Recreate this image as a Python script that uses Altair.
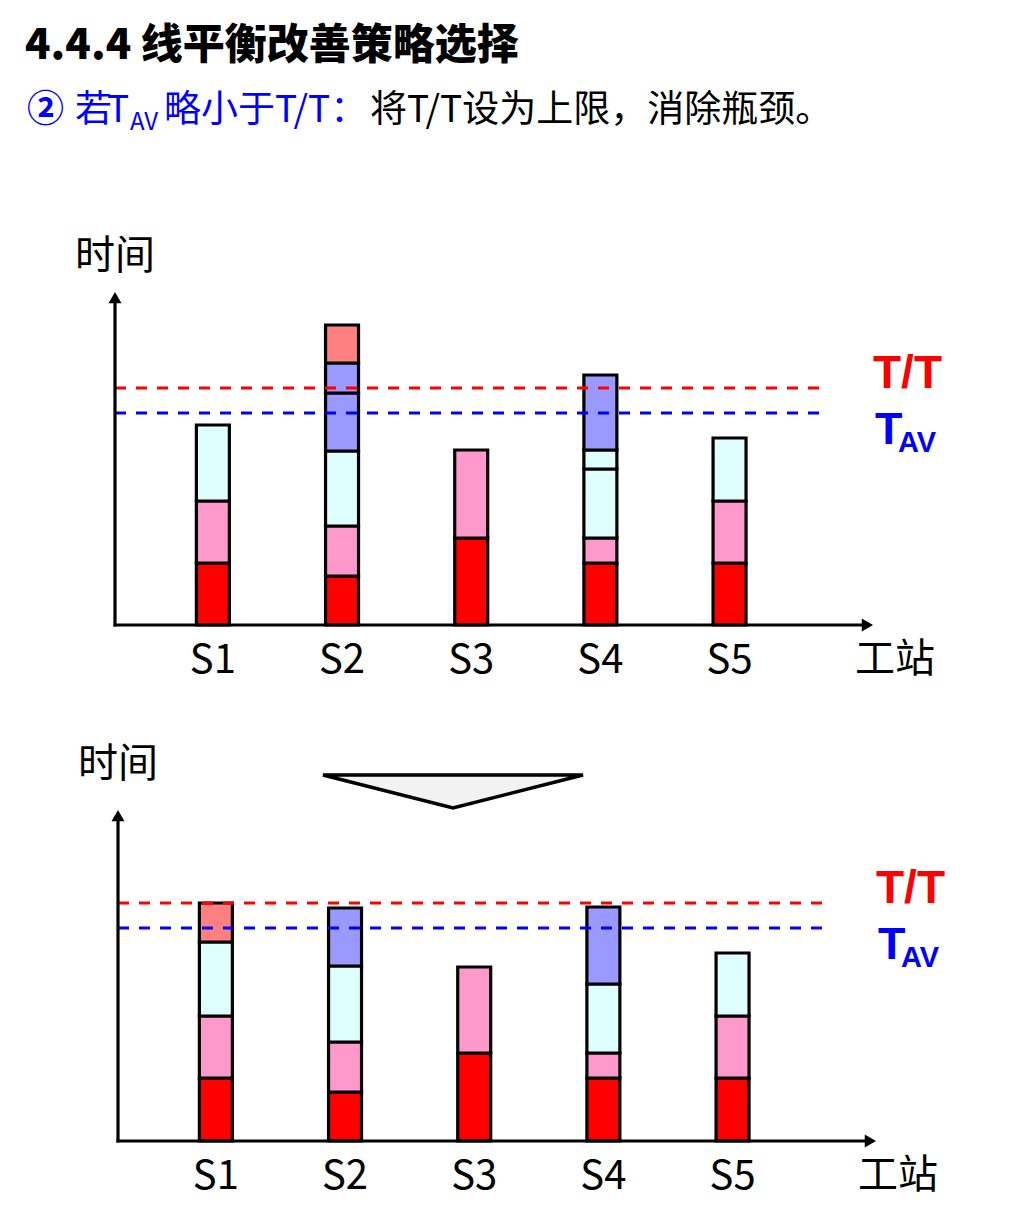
import altair as alt
import pandas as pd

CJK = "Noto Sans CJK SC"
LAT = "Liberation Sans"

stations = ["S1", "S2", "S3", "S4", "S5"]
kinds = ["red", "pink", "cyan", "blue", "salmon"]
kind_colors = ["#FF0000", "#FF99CC", "#DFFFFF", "#9999FF", "#FF8080"]

# before improvement
before_station = ["S1", "S1", "S1", "S2", "S2", "S2", "S2", "S2", "S2", "S3", "S3",
                  "S4", "S4", "S4", "S4", "S4", "S5", "S5", "S5"]
before_kind = ["red", "pink", "cyan", "red", "pink", "cyan", "blue", "blue", "salmon",
               "red", "pink", "red", "pink", "cyan", "cyan", "blue", "red", "pink", "cyan"]
before_value = [6.2, 6.2, 7.6, 4.9, 5.0, 7.5, 5.8, 3.0, 3.8, 8.7, 8.8,
                6.2, 2.5, 6.9, 1.9, 7.5, 6.2, 6.2, 6.3]
before_tt = 23.7
before_tav = 21.2
before_ymax = 33.3

# after improvement
after_station = ["S1", "S1", "S1", "S1", "S2", "S2", "S2", "S2", "S3", "S3",
                 "S4", "S4", "S4", "S4", "S5", "S5", "S5"]
after_kind = ["red", "pink", "cyan", "salmon", "red", "pink", "cyan", "blue", "red", "pink",
              "red", "pink", "cyan", "blue", "red", "pink", "cyan"]
after_value = [6.3, 6.2, 7.4, 3.9, 4.9, 5.0, 7.6, 5.8, 8.8, 8.6,
               6.3, 2.5, 6.9, 7.7, 6.3, 6.2, 6.3]
after_tt = 23.8
after_tav = 21.3
after_ymax = 33.1

one = pd.DataFrame({"a": [0]})


def txt(s, x, y, size, color="black", weight="normal", font=CJK):
    return alt.Chart(one).mark_text(
        text=s, align="left", baseline="alphabetic", fontSize=size,
        color=color, fontWeight=weight, font=font
    ).encode(x=alt.value(x), y=alt.value(y))


def panel(station, kind, value, tt, tav, ymax, height, dx, label_dy):
    df = pd.DataFrame({"station": station, "kind": kind, "value": value})
    df["seg"] = list(range(len(df)))
    lab = pd.DataFrame({"station": stations})
    W = 808
    xs = alt.Scale(domain=stations, paddingInner=0.7447, paddingOuter=1.0,
                   align=(188.5 + dx) / 258.5)
    ys = alt.Scale(domain=[0, ymax], nice=False, zero=True)

    bars = alt.Chart(df).mark_bar(stroke="black", strokeWidth=3.2, opacity=1).encode(
        x=alt.X("station:N", scale=xs, axis=None, sort=stations),
        y=alt.Y("value:Q", stack="zero", scale=ys, axis=None),
        color=alt.Color("kind:N", scale=alt.Scale(domain=kinds, range=kind_colors), legend=None),
        order=alt.Order("seg:Q"),
    )
    labels = alt.Chart(lab).mark_text(
        fontSize=40, font=CJK, baseline="alphabetic", align="center", color="black"
    ).encode(
        x=alt.X("station:N", scale=xs, axis=None, sort=stations),
        y=alt.value(height + 48),
        text="station:N",
    )
    ax0 = 107 + dx
    yaxis = alt.Chart(one).mark_rule(color="black", strokeWidth=3.2).encode(
        x=alt.value(ax0), y=alt.value(8), y2=alt.value(height + 1.5))
    yarrow = alt.Chart(one).mark_point(shape="triangle-up", size=169, filled=True,
                                       color="black", opacity=1).encode(
        x=alt.value(ax0), y=alt.value(5.6))
    xaxis = alt.Chart(one).mark_rule(color="black", strokeWidth=3.2).encode(
        x=alt.value(ax0 - 1.5), x2=alt.value(855 + dx), y=alt.value(height))
    xarrow = alt.Chart(one).mark_point(shape="triangle-right", size=169, filled=True,
                                       color="black", opacity=1).encode(
        x=alt.value(859.4 + dx), y=alt.value(height))
    red_line = alt.Chart(one).mark_rule(color="#FF0000", strokeWidth=2.8,
                                        strokeDash=[11, 10]).encode(
        y=alt.datum(tt), x=alt.value(ax0), x2=alt.value(812 + dx))
    blue_line = alt.Chart(one).mark_rule(color="#0000FF", strokeWidth=2.8,
                                         strokeDash=[11, 10]).encode(
        y=alt.datum(tav), x=alt.value(ax0), x2=alt.value(812 + dx))
    tt_lab = alt.Chart(one).mark_text(text="T/T", fontSize=46, fontWeight="bold", font=LAT,
                                      color="#FF0000", align="left", baseline="alphabetic").encode(
        x=alt.value(865 + dx), y=alt.datum(tt))
    tav_t = alt.Chart(one).mark_text(text="T", fontSize=45, fontWeight="bold", font=LAT,
                                     color="#0000FF", align="left", baseline="alphabetic",
                                     dy=31).encode(
        x=alt.value(867 + dx), y=alt.datum(tav))
    tav_sub = alt.Chart(one).mark_text(text="AV", fontSize=29, fontWeight="bold", font=LAT,
                                       color="#0000FF", align="left", baseline="alphabetic",
                                       dy=39).encode(
        x=alt.value(890 + dx), y=alt.datum(tav))
    ylab = txt("时间", 67 + dx, label_dy, 40)
    xlab = txt("工站", 847 + dx, height + 47, 40)
    return alt.layer(bars, red_line, blue_line, yaxis, yarrow, xaxis, xarrow, labels,
                     tt_lab, tav_t, tav_sub, ylab, xlab).properties(width=W, height=height)


header = alt.layer(
    txt("4.4.4 线平衡改善策略选择", 17, 51, 42, weight=900),
    txt("②", 19, 114, 37, color="#0000FF", weight="bold"),
    txt("若", 67, 114, 37, color="#0000FF"),
    txt("T", 99, 114, 37, color="#0000FF"),
    txt("AV", 122, 122, 24, color="#0000FF"),
    txt("略小于T/T：", 156, 114, 37, color="#0000FF"),
    txt("将T/T设为上限，消除瓶颈。", 362, 114, 37),
).properties(width=1000, height=99)

p1 = panel(before_station, before_kind, before_value, before_tt, before_tav,
           before_ymax, 333, 0, -23)
triangle = alt.Chart(one).mark_point(
    shape="M-1,-0.127L1,-0.127L0,0.127Z", size=67600, filled=True, fill="#F2F2F2",
    stroke="black", strokeWidth=3.5, opacity=1, fillOpacity=1, strokeOpacity=1,
    strokeJoin="miter"
).encode(x=alt.value(445), y=alt.value(-18.5))
p2 = alt.layer(
    panel(after_station, after_kind, after_value, after_tt, after_tav,
          after_ymax, 331, 3, -33),
    triangle,
)

chart = alt.vconcat(header, p1, p2, spacing=185, bounds="flush").resolve_scale(
    x="independent", y="independent"
).configure_view(stroke=None).properties(padding=0)

chart.save("out.html", embed_options={"renderer": "svg", "actions": False})
